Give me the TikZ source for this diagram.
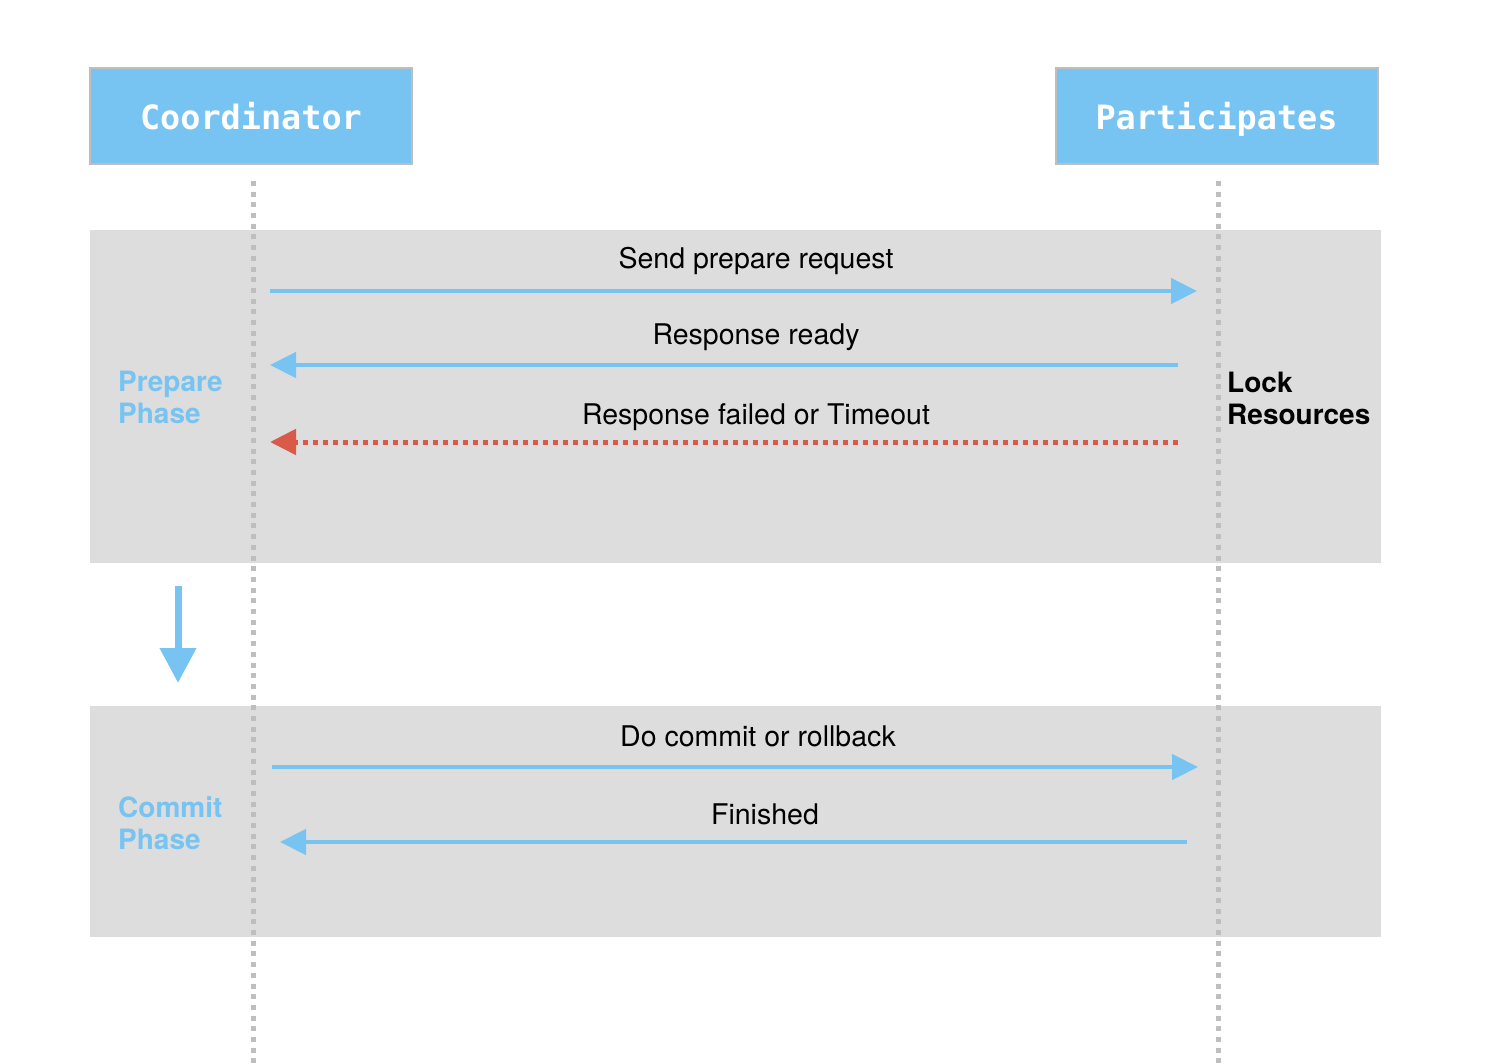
\documentclass[tikz,border=0pt]{standalone}
\usepackage{fontspec}
\setmainfont{TeX Gyre Heros}
\newfontfamily\headfont{DejaVu Sans Mono}
\usetikzlibrary{arrows.meta,positioning}
\definecolor{skyblue}{HTML}{77C3F2}
\definecolor{bandgray}{HTML}{DDDDDD}
\definecolor{linegray}{HTML}{BEBEBE}
\definecolor{failred}{HTML}{D95A48}

\begin{document}
\begin{tikzpicture}[x=1pt,y=-1pt,
    actor/.style={draw=linegray, line width=2pt, fill=skyblue, text=white,
      minimum width=322pt, minimum height=96pt, text depth=0pt,
      font=\headfont\bfseries\fontsize{33.5}{36}\selectfont},
    life/.style={linegray, line width=5pt, dash pattern=on 5pt off 5.7pt},
    msg/.style={skyblue, line width=4.5pt, -{Triangle[length=26pt,width=25pt]}},
    fail/.style={failred, line width=5pt, dash pattern=on 5pt off 5pt,
      -{Triangle[length=26pt,width=25pt]}},
    lbl/.style={inner sep=0pt, font=\fontsize{28.5}{33}\selectfont},
    phase/.style={inner sep=0pt, anchor=west, align=left, text=skyblue,
      font=\bfseries\fontsize{28}{32}\selectfont}]
  \useasboundingbox (0,0) rectangle (1504,1064);

  % phase bands
  \fill[bandgray] (90,230) rectangle (1381,563);
  \fill[bandgray] (90,706) rectangle (1381,937);

  % actors and lifelines
  \node[actor] (coord) at (251,116) {Coordinator};
  \node[actor] (part) at (1216.5,116) {Participates};
  \coordinate (coord end) at (253,1064);
  \coordinate (part end) at (1218,1064);
  \draw[life] (253,181) -- (coord end);
  \draw[life] (1218,181) -- (part end);

  % prepare phase
  \node[phase] (prep) at (118,397) {Prepare\\Phase};
  \node[phase, text=black] (lock) at (1227,398) {Lock\\Resources};

  \coordinate (c1) at (270,291);  \coordinate (p1) at (1197,291);
  \coordinate (c2) at (270,365);  \coordinate (p2) at (1178,365);
  \coordinate (c3) at (270,442);  \coordinate (p3) at (1178,442);
  \draw[msg] (c1) -- (p1);
  \draw[msg] (p2) -- (c2);
  \draw[fail] (p3) -- (c3);
  \node[lbl] (m1) at (756,261) {Send prepare request};
  \node[lbl] (m2) at (756,337) {Response ready};
  \node[lbl] (m3) at (756,417) {Response failed or Timeout};

  % step down
  \coordinate (down a) at (178,586);
  \coordinate (down b) at (178,683);
  \draw[skyblue, line width=7pt, -{Triangle[length=35pt,width=35pt]}] (down a) -- (down b);

  % commit phase
  \node[phase] (comm) at (118,823) {Commit\\Phase};
  \coordinate (c4) at (272,767);  \coordinate (p4) at (1198,767);
  \coordinate (c5) at (280,842);  \coordinate (p5) at (1187,842);
  \draw[msg] (c4) -- (p4);
  \draw[msg] (p5) -- (c5);
  \node[lbl] (m4) at (758,736) {Do commit or rollback};
  \node[lbl] (m5) at (765,814) {Finished};
\end{tikzpicture}
\end{document}
